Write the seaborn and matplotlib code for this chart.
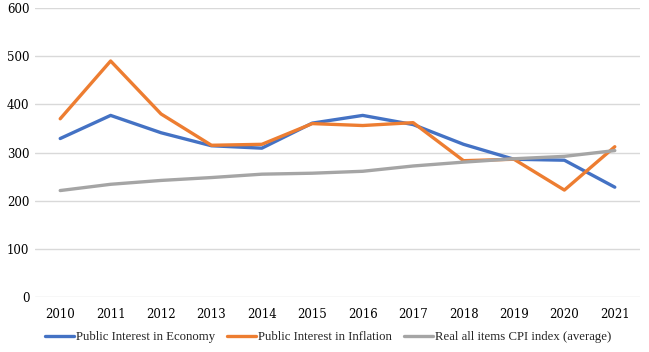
import matplotlib
matplotlib.use("Agg")
import matplotlib.pyplot as plt
import seaborn as sns
import pandas as pd

years = [2010, 2011, 2012, 2013, 2014, 2015, 2016, 2017, 2018, 2019, 2020, 2021]
economy = [329, 377, 341, 314, 309, 361, 377, 358, 317, 286, 284, 228]
inflation = [370, 490, 380, 315, 317, 360, 356, 362, 283, 286, 222, 312]
cpi = [221, 234, 242, 248, 255, 257, 261, 272, 280, 287, 292, 304]
series_names = ["Public Interest in Economy", "Public Interest in Inflation",
                "Real all items CPI index (average)"]
colors = ["#4472C4", "#ED7D31", "#A5A5A5"]

df = pd.concat([
    pd.DataFrame({"year": years, "value": v, "series": n})
    for v, n in zip([economy, inflation, cpi], series_names)
])
df["pos"] = df["year"] - years[0]

sns.set_theme(style="white")
fig = plt.figure(figsize=(6.49, 3.52), dpi=100)
ax = fig.add_axes([35/649, 1 - 297/352, 605/649, 289/352])

sns.lineplot(data=df, x="pos", y="value", hue="series", palette=colors,
             linewidth=2.4, ax=ax, legend=True)

ax.set_xlim(-0.5, len(years) - 0.5)
ax.set_ylim(0, 600)
ax.set_yticks(range(0, 601, 100))
ax.set_xticks(range(len(years)))
ax.set_xticklabels([str(y) for y in years])
ax.grid(axis="y", color="#D9D9D9", linewidth=1)
ax.set_axisbelow(True)
for s in ax.spines.values():
    s.set_visible(False)
ax.set_xlabel("")
ax.set_ylabel("")
ax.tick_params(axis="both", length=0, labelsize=8.5, colors="#000000")
ax.tick_params(axis="x", pad=8)
ax.tick_params(axis="y", pad=4)
for lbl in ax.get_xticklabels() + ax.get_yticklabels():
    lbl.set_family("DejaVu Serif")

handles, labels = ax.get_legend_handles_labels()
fig.legend(handles, labels, loc="center", bbox_to_anchor=(328/649, 1 - 337/352),
           ncol=3, frameon=False, prop={"family": "Liberation Serif", "size": 9.2},
           handlelength=2.3, handletextpad=0.15, columnspacing=0.9)
if ax.get_legend():
    ax.get_legend().remove()

fig.savefig("out.png", dpi=100)
